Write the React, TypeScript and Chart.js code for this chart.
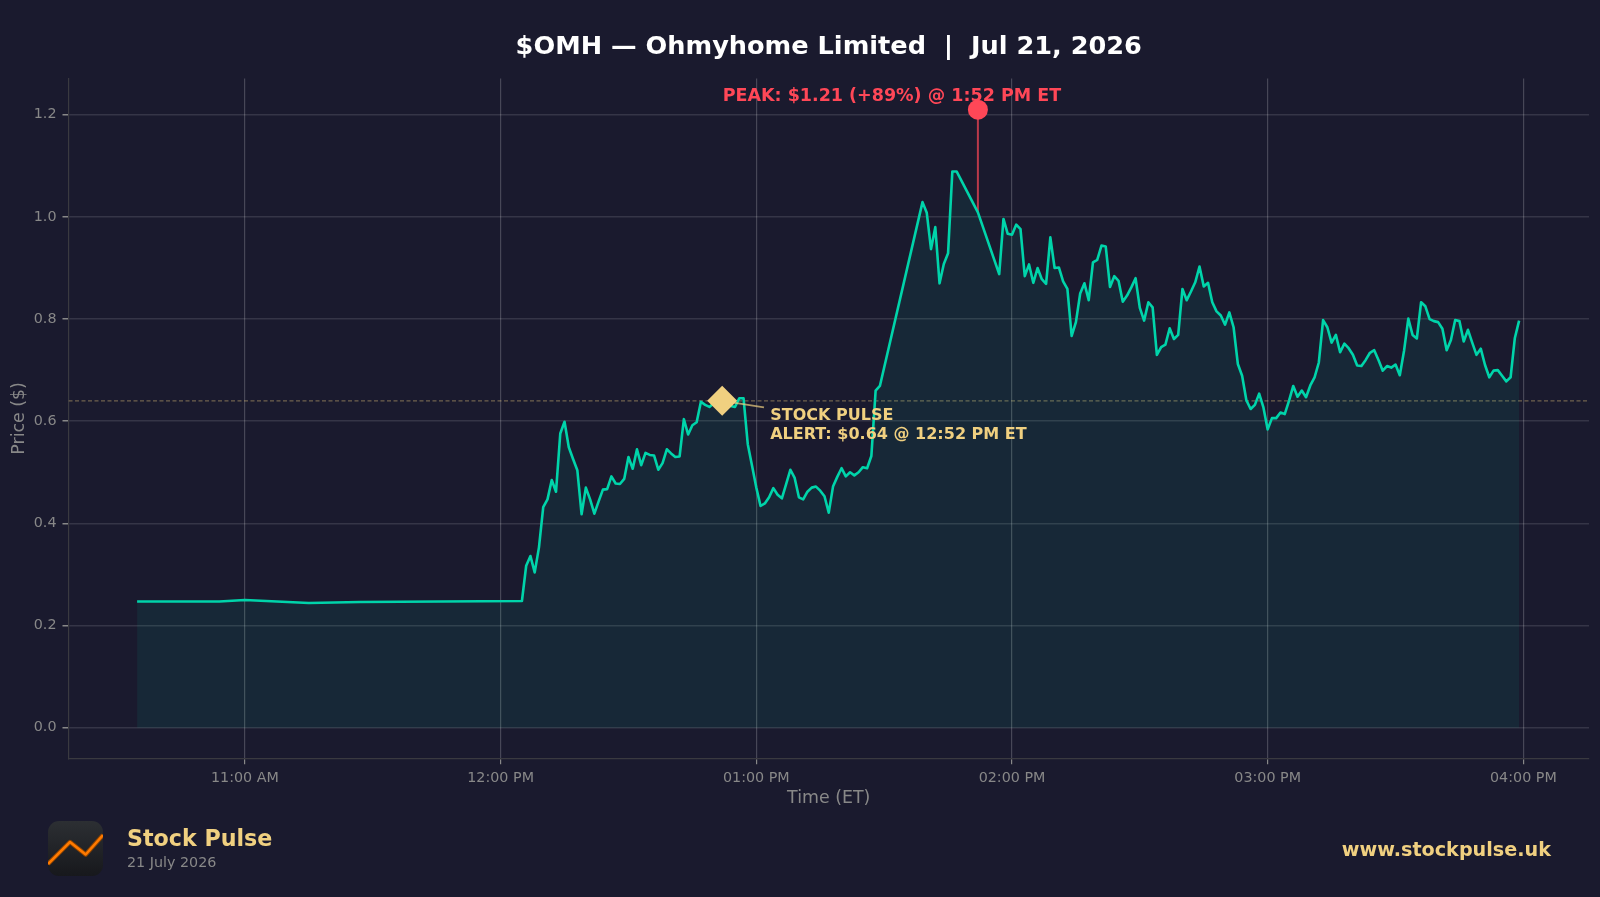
import React, { useEffect, useRef } from 'react';
import { Chart, registerables } from 'chart.js';

Chart.register(...registerables);

const FONT = '"DejaVu Sans", sans-serif';
const BG = '#1a1a2e';
const GREEN = '#00d4aa';
const RED = '#ff4757';
const GOLD = '#f0d080';
const MUTED = '#888888';

// minutes since midnight, ET (the feed has gaps)
const minutes = [
  634.7, 654, 660, 675, 687, 725, 726, 727, 728, 729, 730, 731, 732, 733, 734, 735, 736, 737, 738, 739,
  740, 741, 742, 743, 744, 745, 746, 747, 748, 749, 750, 751, 752, 753, 754, 755, 756, 757, 758, 759,
  760, 761, 762, 763, 764, 765, 766, 767, 768, 769, 770, 771, 772, 773, 774, 775, 776, 777, 778, 779,
  780, 781, 782, 783, 784, 785, 786, 787, 788, 789, 790, 791, 792, 793, 794, 795, 796, 797, 798, 799,
  800, 801, 802, 803, 804, 805, 806, 807, 808, 809, 819, 820, 821, 822, 823, 824, 825, 826, 827, 832,
  837, 838, 839, 840, 841, 842, 843, 844, 845, 846, 847, 848, 849, 850, 851, 852, 853, 854, 855, 856,
  857, 858, 859, 860, 861, 862, 863, 864, 865, 866, 867, 868, 869, 870, 871, 872, 873, 874, 875, 876,
  877, 878, 879, 880, 881, 882, 883, 884, 885, 886, 887, 888, 889, 890, 891, 892, 893, 894, 895, 896,
  897, 898, 899, 900, 901, 902, 903, 904, 905, 906, 907, 908, 909, 910, 911, 912, 913, 914, 915, 916,
  917, 918, 919, 920, 921, 922, 923, 924, 925, 926, 927, 928, 929, 930, 931, 932, 933, 934, 935, 936,
  937, 938, 939, 940, 941, 942, 943, 944, 945, 946, 947, 948, 949, 950, 951, 952, 953, 954, 955, 956,
  957, 958, 959,
];

const prices = [
  0.247, 0.247, 0.25, 0.244, 0.246, 0.248, 0.317, 0.336, 0.304, 0.353, 0.432, 0.447, 0.485, 0.462, 0.576, 0.599, 0.549, 0.526, 0.504, 0.418,
  0.47, 0.447, 0.419, 0.443, 0.466, 0.467, 0.492, 0.478, 0.477, 0.487, 0.53, 0.507, 0.545, 0.514, 0.538, 0.534, 0.533, 0.505, 0.518, 0.545,
  0.537, 0.53, 0.531, 0.604, 0.574, 0.592, 0.598, 0.638, 0.632, 0.628, 0.635, 0.64, 0.64, 0.635, 0.63, 0.628, 0.645, 0.645, 0.555, 0.513,
  0.47, 0.434, 0.439, 0.451, 0.469, 0.456, 0.449, 0.477, 0.505, 0.489, 0.451, 0.447, 0.462, 0.47, 0.472, 0.464, 0.453, 0.421, 0.472, 0.491,
  0.508, 0.492, 0.5, 0.494, 0.5, 0.51, 0.508, 0.532, 0.66, 0.669, 1.029, 1.008, 0.937, 0.98, 0.87, 0.908, 0.929, 1.089, 1.089, 1.009,
  0.888, 0.996, 0.967, 0.965, 0.985, 0.976, 0.884, 0.907, 0.871, 0.9, 0.878, 0.869, 0.96, 0.9, 0.901, 0.874, 0.859, 0.767, 0.794, 0.85,
  0.87, 0.837, 0.911, 0.916, 0.944, 0.942, 0.863, 0.884, 0.875, 0.834, 0.846, 0.862, 0.88, 0.822, 0.797, 0.833, 0.823, 0.73, 0.745, 0.75,
  0.782, 0.761, 0.769, 0.859, 0.837, 0.854, 0.872, 0.903, 0.864, 0.871, 0.833, 0.815, 0.807, 0.789, 0.813, 0.784, 0.712, 0.689, 0.641, 0.624,
  0.632, 0.654, 0.627, 0.584, 0.606, 0.606, 0.617, 0.614, 0.64, 0.669, 0.648, 0.66, 0.647, 0.67, 0.686, 0.715, 0.798, 0.784, 0.754, 0.769,
  0.735, 0.752, 0.743, 0.73, 0.709, 0.708, 0.72, 0.734, 0.739, 0.72, 0.699, 0.708, 0.705, 0.711, 0.69, 0.738, 0.801, 0.769, 0.762, 0.833,
  0.825, 0.8, 0.796, 0.794, 0.781, 0.739, 0.759, 0.798, 0.796, 0.756, 0.779, 0.754, 0.73, 0.742, 0.71, 0.686, 0.699, 0.7, 0.689, 0.678,
  0.686, 0.763, 0.797,
];

const xTicks = [660, 720, 780, 840, 900, 960];
const xTickLabels = ['11:00 AM', '12:00 PM', '01:00 PM', '02:00 PM', '03:00 PM', '04:00 PM'];
const yTicks = [0, 0.2, 0.4, 0.6, 0.8, 1.0, 1.2];

const X_MIN = 618.6;
const X_MAX = 975.4;

const alertMinute = 772;
const alertPrice = 0.64;
const alertCalloutEnd = [781.8, 0.627];
const peakMinute = 832;
const peakPrice = 1.21;
const peakLineBottom = 1.009;

const TITLE = '$OMH \u2014 Ohmyhome Limited  |  Jul 21, 2026';
const PEAK_LABEL = 'PEAK: $1.21 (+89%) @ 1:52 PM ET';
const ALERT_LABEL = ['STOCK PULSE', 'ALERT: $0.64 @ 12:52 PM ET'];

const labelsPlugin = {
  id: 'labels',
  afterDatasetsDraw(chart: Chart) {
    const { ctx, scales } = chart;
    const px = scales.x.getPixelForValue(peakMinute);
    const py = scales.y.getPixelForValue(peakPrice);
    const ax = scales.x.getPixelForValue(alertMinute);
    const ay = scales.y.getPixelForValue(alertPrice);
    ctx.save();
    ctx.textBaseline = 'middle';
    ctx.textAlign = 'center';
    ctx.font = `bold 17.5px ${FONT}`;
    ctx.fillStyle = RED;
    ctx.fillText(PEAK_LABEL, px - 86, py - 13);
    ctx.textAlign = 'left';
    ctx.font = `bold 16px ${FONT}`;
    ctx.fillStyle = GOLD;
    ctx.fillText(ALERT_LABEL[0], ax + 48, ay + 15.5);
    ctx.fillText(ALERT_LABEL[1], ax + 48, ay + 34.5);
    ctx.restore();
  },
};

export default function App() {
  const canvasRef = useRef<HTMLCanvasElement>(null);

  useEffect(() => {
    document.body.style.margin = '0';
    document.body.style.background = BG;
    if (!canvasRef.current) return;

    const chart = new Chart(canvasRef.current, {
      type: 'line',
      data: {
        datasets: [
          {
            data: [{ x: alertMinute, y: alertPrice }],
            pointStyle: 'rectRot',
            pointRadius: 15,
            pointBackgroundColor: GOLD,
            pointBorderWidth: 0,
            showLine: false,
            order: 0,
          },
          {
            data: [{ x: peakMinute, y: peakPrice }],
            pointRadius: 10,
            pointBackgroundColor: RED,
            pointBorderWidth: 0,
            showLine: false,
            order: 0,
          },
          {
            data: [
              { x: alertMinute, y: alertPrice },
              { x: alertCalloutEnd[0], y: alertCalloutEnd[1] },
            ],
            borderColor: 'rgba(240,208,128,0.7)',
            borderWidth: 1.8,
            pointRadius: 0,
            order: 1,
          },
          {
            data: minutes.map((m, i) => ({ x: m, y: prices[i] })),
            borderColor: GREEN,
            borderWidth: 2.6,
            backgroundColor: 'rgba(0,212,170,0.08)',
            fill: 'origin',
            pointRadius: 0,
            tension: 0,
            borderJoinStyle: 'round',
            order: 2,
          },
          {
            data: [
              { x: peakMinute, y: peakLineBottom },
              { x: peakMinute, y: peakPrice },
            ],
            borderColor: 'rgba(255,71,87,0.7)',
            borderWidth: 2,
            pointRadius: 0,
            order: 3,
          },
          {
            data: [
              { x: X_MIN, y: alertPrice },
              { x: X_MAX, y: alertPrice },
            ],
            borderColor: 'rgba(240,208,128,0.4)',
            borderWidth: 1.2,
            borderDash: [4, 2.5],
            pointRadius: 0,
            order: 4,
          },
        ],
      },
      options: {
        responsive: false,
        animation: false,
        // the big markers would otherwise add their own margin round the plot
        layout: { autoPadding: false, padding: { top: 0, right: 11, bottom: 88.2, left: 0 } },
        plugins: {
          legend: { display: false },
          tooltip: { enabled: false },
          title: {
            display: true,
            text: TITLE,
            color: '#ffffff',
            fullSize: false,
            font: { family: FONT, size: 25.6, weight: 'bold', lineHeight: 1.2 },
            padding: { top: 31.6, bottom: 16.2 },
          },
        },
        scales: {
          x: {
            type: 'linear',
            min: X_MIN,
            max: X_MAX,
            afterFit: (s: any) => { s.height = 50.5; },
            afterBuildTicks: (s: any) => { s.ticks = xTicks.map((value) => ({ value })); },
            ticks: {
              color: MUTED,
              autoSkip: false,
              maxRotation: 0,
              padding: 5,
              font: { family: FONT, size: 14.3 },
              callback: (_v: any, i: number) => xTickLabels[i],
            },
            grid: { color: 'rgba(255,255,255,0.2)', tickColor: MUTED, tickLength: 6, lineWidth: 1.2 },
            border: { color: '#3a3a40', width: 1.2 },
            title: {
              display: true,
              text: 'Time (ET)',
              color: MUTED,
              font: { family: FONT, size: 17.4 },
              padding: 0,
            },
          },
          y: {
            type: 'linear',
            min: -0.06,
            max: 1.271,
            afterFit: (s: any) => { s.width = 68.5; },
            afterBuildTicks: (s: any) => { s.ticks = yTicks.map((value) => ({ value })); },
            ticks: {
              color: MUTED,
              padding: 6,
              font: { family: FONT, size: 14.3 },
              callback: (v: any) => Number(v).toFixed(1),
            },
            grid: { color: 'rgba(255,255,255,0.12)', tickColor: MUTED, tickLength: 6, lineWidth: 1.5 },
            border: { color: '#3a3a40', width: 1.2 },
            title: {
              display: true,
              text: 'Price ($)',
              color: MUTED,
              font: { family: FONT, size: 17.4 },
              padding: { top: 9, bottom: 0 },
            },
          },
        },
      },
      plugins: [labelsPlugin],
    });

    return () => chart.destroy();
  }, []);

  return (
    <div style={{ position: 'relative', width: 1600, height: 897, background: BG, overflow: 'hidden', fontFamily: FONT }}>
      <canvas ref={canvasRef} width={1600} height={897} style={{ display: 'block' }} />
      <svg width={56} height={56} viewBox="0 0 56 56" style={{ position: 'absolute', left: 48, top: 821 }}>
        <defs>
          <linearGradient id="logoBg" x1="0" y1="0" x2="0" y2="1">
            <stop offset="0" stopColor="#2c2f33" />
            <stop offset="1" stopColor="#17181c" />
          </linearGradient>
          <clipPath id="logoClip">
            <rect width={55} height={55} rx={11} />
          </clipPath>
        </defs>
        <rect width={55} height={55} rx={11} fill="url(#logoBg)" />
        <polyline
          points="0,43 22,21 37.7,33.5 55,14"
          fill="none"
          stroke="#8a4200"
          strokeWidth={4.5}
          strokeLinejoin="round"
          clipPath="url(#logoClip)"
        />
        <polyline
          points="0,43 22,21 37.7,33.5 55,14"
          fill="none"
          stroke="#ff7a00"
          strokeWidth={2.5}
          strokeLinejoin="round"
          clipPath="url(#logoClip)"
        />
      </svg>
      <div style={{ position: 'absolute', left: 127, top: 824, fontSize: 22.2, lineHeight: '28px', fontWeight: 'bold', color: GOLD, whiteSpace: 'nowrap' }}>
        Stock Pulse
      </div>
      <div style={{ position: 'absolute', left: 127, top: 854, fontSize: 14.3, lineHeight: '17px', color: MUTED, whiteSpace: 'nowrap' }}>
        21 July 2026
      </div>
      <div style={{ position: 'absolute', right: 49, top: 839, fontSize: 19.2, lineHeight: '22px', fontWeight: 'bold', color: GOLD, whiteSpace: 'nowrap' }}>
        www.stockpulse.uk
      </div>
    </div>
  );
}
